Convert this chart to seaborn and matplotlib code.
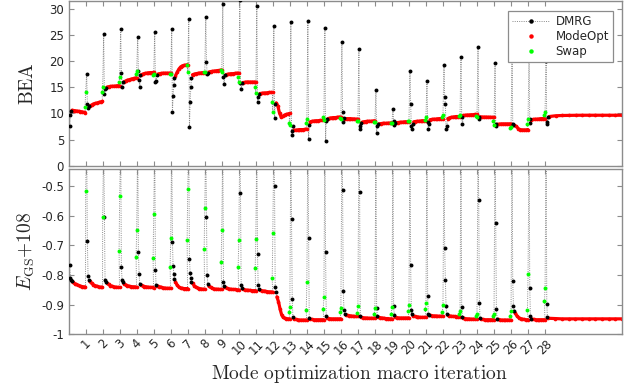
import numpy as np
import pandas as pd
import matplotlib
matplotlib.use("Agg")
import matplotlib.pyplot as plt
import seaborn as sns
from matplotlib.lines import Line2D

# ---------------------------------------------------------------- data
iterations = list(range(1, 29))
tick_labels = [str(k) for k in iterations]
x_last = 32.5

# Bond entanglement area (BEA)
bea_start_dmrg = [7.6, 9.6, 10.5]
bea_start_modeopt = [10.6, 10.55, 10.5, 10.45, 10.4, 10.35, 10.3, 10.2, 10.15]
bea_swap = [
    [11.3, 14.0], [14.0, 15.0], [16.1, 16.9], [17.6, 18.1], [17.4, 17.6],
    [17.5, 17.6], [19.3, 17.9], [17.9, 17.9], [18.3, 17.9], [16.9, 16.0],
    [15.0, 13.9], [12.1, 10.2], [8.2, 7.7], [8.1, 8.9], [9.4, 8.8],
    [9.2, 9.0], [8.6, 8.5], [8.4, 8.3], [8.1, 8.2], [8.6, 8.5],
    [8.75, 9.3], [9.3, 9.6], [9.5, 9.6], [9.5, 9.4], [8.5, 7.7],
    [7.2, 7.4], [8.0, 9.0], [9.65, 10.3],
]
bea_dmrg = [
    [17.6, 11.8, 11.0, 11.5], [25.2, 13.7, 14.6, 14.9], [26.1, 17.7, 15.0, 16.0],
    [24.7, 18.1, 16.4, 15.0, 17.3], [25.5, 16.0, 16.2, 17.3],
    [26.2, 10.3, 13.4, 15.4, 16.8], [28.1, 7.35, 12.2, 15.0, 16.8],
    [28.4, 19.9, 17.6, 17.8], [31.0, 17.0, 15.6, 17.3], [31.6, 15.9, 14.6, 15.8],
    [30.5, 12.1, 13.2, 13.7], [26.8, 9.1, 11.8], [27.4, 6.7, 5.9, 7.5],
    [27.7, 5.2, 7.8], [26.4, 4.7, 8.5, 8.9], [23.7, 10.3, 8.4, 9.1],
    [22.4, 7.0, 7.5, 8.2], [14.4, 6.3, 7.6, 8.0], [10.9, 8.6, 7.7, 8.1],
    [18.2, 11.8, 7.5, 7.0, 8.0], [16.2, 8.4, 7.0, 7.9],
    [19.35, 13.1, 11.8, 7.0, 7.6], [20.8, 9.4, 7.9], [22.7, 9.4, 9.0],
    [19.6, 7.5, 8.0], [20.9, 8.0, 7.7], [20.9, 8.2, 8.9], [20.0, 7.9, 8.4, 9.3],
]
bea_modeopt = [
    [11.4, 11.6, 11.8, 11.9, 12.0, 12.1, 12.2, 12.3],
    [15.0, 15.1, 15.15, 15.2, 15.2, 15.25, 15.3, 15.3],
    [16.0, 16.2, 16.35, 16.45, 16.55, 16.65, 16.75, 16.8],
    [17.4, 17.55, 17.65, 17.7, 17.75, 17.8, 17.8, 17.85],
    [17.5, 17.6, 17.65, 17.7, 17.7, 17.7, 17.7, 17.7],
    [17.2, 17.9, 18.5, 18.9, 19.1, 19.2, 19.25, 19.3],
    [17.4, 17.5, 17.6, 17.65, 17.7, 17.75, 17.8, 17.8],
    [17.9, 18.0, 18.05, 18.1, 18.15, 18.2, 18.25, 18.3],
    [17.4, 17.5, 17.55, 17.6, 17.6, 17.65, 17.7, 17.7],
    [15.9, 15.95, 16.0, 16.0, 16.0, 16.0, 16.0, 16.0],
    [13.8, 13.85, 13.9, 13.9, 13.95, 14.0, 14.0, 14.0],
    [12.0, 11.4, 10.0, 9.3, 9.5, 9.7, 9.8, 9.9, 10.0],
    [6.8, 6.8, 6.85, 6.9, 6.9, 6.9, 6.95, 7.0],
    [8.4, 8.5, 8.55, 8.6, 8.6, 8.65, 8.65, 8.7],
    [9.0, 9.1, 9.15, 9.2, 9.2, 9.25, 9.3, 9.3],
    [9.0, 9.0, 9.0, 9.0, 8.95, 8.95, 8.9, 8.9],
    [8.3, 8.4, 8.45, 8.5, 8.5, 8.5, 8.55, 8.6],
    [8.0, 8.05, 8.1, 8.1, 8.1, 8.15, 8.15, 8.2],
    [8.2, 8.25, 8.3, 8.3, 8.35, 8.4, 8.4, 8.45],
    [8.4, 8.45, 8.5, 8.5, 8.55, 8.6, 8.6, 8.6],
    [8.8, 8.85, 8.9, 8.9, 8.95, 9.0, 9.0, 9.0],
    [9.0, 9.15, 9.25, 9.3, 9.35, 9.4, 9.4, 9.4],
    [9.6, 9.65, 9.7, 9.7, 9.75, 9.75, 9.8, 9.8],
    [9.35, 9.3, 9.3, 9.3, 9.28, 9.28, 9.25, 9.25],
    [7.9, 7.95, 8.0, 8.0, 8.0, 8.0, 8.0, 8.0],
    [7.7, 7.5, 7.1, 6.9, 6.85, 6.85, 6.85, 6.9],
    [8.8, 8.85, 8.9, 8.9, 8.95, 9.0, 9.0, 9.0],
    [9.4, 9.55, 9.6, 9.62, 9.64, 9.65, 9.65, 9.65, 9.65, 9.65, 9.65, 9.65],
]

# Ground-state energy shifted by +108
egs_start_dmrg = [-0.767, -0.811, -0.816, -0.822]
egs_start_modeopt = [-0.825, -0.829, -0.832, -0.835, -0.837, -0.839, -0.840, -0.841]
egs_swap = [
    [-0.517], [-0.604], [-0.718, -0.533], [-0.738, -0.649], [-0.742, -0.593],
    [-0.774, -0.674], [-0.682, -0.509], [-0.711, -0.575], [-0.756, -0.647],
    [-0.772, -0.682], [-0.778, -0.680], [-0.809, -0.660], [-0.924, -0.908],
    [-0.919, -0.824], [-0.916, -0.874], [-0.925, -0.912], [-0.927, -0.905],
    [-0.932, -0.912], [-0.930, -0.908], [-0.923, -0.901], [-0.916, -0.894],
    [-0.925, -0.901], [-0.932, -0.923], [-0.940, -0.932], [-0.940, -0.932],
    [-0.940, -0.923], [-0.918, -0.798], [-0.888, -0.843],
]
egs_dmrg = [
    [-0.35, -0.685, -0.803, -0.818], [-0.35, -0.604, -0.817, -0.825],
    [-0.35, -0.774, -0.817, -0.825], [-0.35, -0.722, -0.796, -0.830],
    [-0.35, -0.783, -0.835], [-0.35, -0.689, -0.771, -0.797, -0.812],
    [-0.35, -0.745, -0.793, -0.810, -0.823], [-0.35, -0.604, -0.799, -0.832],
    [-0.35, -0.825, -0.838], [-0.35, -0.524, -0.834, -0.843],
    [-0.35, -0.731, -0.834, -0.846], [-0.35, -0.500, -0.841, -0.858],
    [-0.35, -0.613, -0.880, -0.941], [-0.35, -0.674, -0.946],
    [-0.35, -0.722, -0.940], [-0.35, -0.515, -0.854, -0.917, -0.930],
    [-0.35, -0.522, -0.940], [-0.35, -0.910, -0.937], [-0.35, -0.906, -0.936],
    [-0.35, -0.767, -0.917, -0.932], [-0.35, -0.872, -0.930, -0.934],
    [-0.35, -0.709, -0.816, -0.903, -0.932], [-0.35, -0.908, -0.941],
    [-0.35, -0.547, -0.896, -0.946], [-0.35, -0.624, -0.916, -0.948],
    [-0.35, -0.821, -0.903, -0.920], [-0.35, -0.843, -0.940, -0.947],
    [-0.35, -0.899, -0.943],
]
egs_modeopt = [
    [-0.822, -0.828, -0.833, -0.836, -0.838, -0.840, -0.841, -0.842],
    [-0.827, -0.832, -0.836, -0.838, -0.840, -0.841, -0.842, -0.842],
    [-0.829, -0.833, -0.836, -0.838, -0.839, -0.840, -0.840, -0.841],
    [-0.833, -0.836, -0.839, -0.840, -0.841, -0.842, -0.842, -0.843],
    [-0.836, -0.839, -0.841, -0.843, -0.844, -0.845, -0.845, -0.845],
    [-0.823, -0.835, -0.841, -0.844, -0.845, -0.846, -0.846, -0.846],
    [-0.828, -0.836, -0.841, -0.844, -0.846, -0.847, -0.848, -0.848],
    [-0.838, -0.842, -0.845, -0.847, -0.848, -0.848, -0.849, -0.849],
    [-0.842, -0.845, -0.847, -0.848, -0.849, -0.849, -0.850, -0.850],
    [-0.848, -0.850, -0.851, -0.852, -0.852, -0.853, -0.853, -0.853],
    [-0.851, -0.853, -0.854, -0.855, -0.856, -0.857, -0.857, -0.858],
    [-0.874, -0.890, -0.915, -0.935, -0.943, -0.946, -0.947, -0.948, -0.948],
    [-0.948, -0.950, -0.951, -0.952, -0.952, -0.952, -0.952, -0.952],
    [-0.949, -0.950, -0.951, -0.951, -0.951, -0.951, -0.951, -0.951],
    [-0.945, -0.947, -0.948, -0.948, -0.948, -0.948, -0.948, -0.948],
    [-0.934, -0.936, -0.937, -0.938, -0.939, -0.940, -0.940, -0.940],
    [-0.943, -0.944, -0.945, -0.945, -0.946, -0.946, -0.946, -0.946],
    [-0.942, -0.944, -0.945, -0.946, -0.947, -0.947, -0.948, -0.948],
    [-0.942, -0.944, -0.945, -0.945, -0.945, -0.945, -0.945, -0.945],
    [-0.938, -0.940, -0.941, -0.942, -0.943, -0.943, -0.943, -0.943],
    [-0.936, -0.937, -0.938, -0.938, -0.939, -0.939, -0.939, -0.939],
    [-0.936, -0.938, -0.939, -0.940, -0.940, -0.941, -0.941, -0.941],
    [-0.945, -0.947, -0.948, -0.948, -0.949, -0.949, -0.949, -0.949],
    [-0.949, -0.950, -0.951, -0.951, -0.951, -0.951, -0.951, -0.951],
    [-0.950, -0.951, -0.952, -0.952, -0.952, -0.952, -0.952, -0.952],
    [-0.928, -0.938, -0.944, -0.947, -0.949, -0.950, -0.951, -0.951],
    [-0.949, -0.950, -0.951, -0.951, -0.951, -0.951, -0.951, -0.951],
    [-0.946, -0.947, -0.948, -0.948, -0.948, -0.948, -0.948, -0.948,
     -0.948, -0.948, -0.948, -0.948],
]


# ---------------------------------------------------------------- helpers
def build_frames(start_dmrg, start_mode, swap, dmrg, mode):
    """Lay the samples out along the macro-iteration axis in run order."""
    rows = []
    seg = 0
    for j, v in enumerate(start_dmrg):
        rows.append((0.04 + 0.04 * j, v, "DMRG", -1))
    for x, v in zip(np.linspace(0.04 + 0.04 * len(start_dmrg) + 0.02, 0.97,
                                len(start_mode)), start_mode):
        rows.append((x, v, "ModeOpt", seg))
    for k, s, d, m in zip(iterations, swap, dmrg, mode):
        seg += 1
        n = len(s)
        for j, v in enumerate(s):
            rows.append((k - 0.02 - 0.035 * (n - 1 - j), v, "Swap", -1))
        for j, v in enumerate(d):
            rows.append((k + 0.04 + 0.04 * j, v, "DMRG", -1))
        x0 = k + 0.04 + 0.04 * len(d) + 0.02
        x1 = x_last if k == iterations[-1] else k + 0.97
        for x, v in zip(np.linspace(x0, x1, len(m)), m):
            rows.append((x, v, "ModeOpt", seg))
    df = pd.DataFrame(rows, columns=["x", "y", "kind", "seg"])
    df["order"] = np.arange(len(df))
    return df


def draw_panel(ax, df):
    sns.lineplot(data=df, x="x", y="y", sort=False, estimator=None, ax=ax,
                 color="#8a8a8a", lw=0.7, linestyle=(0, (1, 1.3)),
                 legend=False, zorder=1)
    mode = df[df.kind == "ModeOpt"]
    sns.lineplot(data=mode, x="x", y="y", units="seg", estimator=None,
                 sort=False, ax=ax, color="#ff0000", lw=2.3, legend=False,
                 zorder=2)
    sns.scatterplot(data=mode, x="x", y="y", ax=ax, color="#ff0000", s=7,
                    linewidth=0, legend=False, zorder=2)
    sns.scatterplot(data=df[df.kind == "DMRG"], x="x", y="y", ax=ax,
                    color="black", s=8, linewidth=0, legend=False, zorder=3)
    sns.scatterplot(data=df[df.kind == "Swap"], x="x", y="y", ax=ax,
                    color="#00ff00", s=8, linewidth=0, legend=False, zorder=4)


def style_axes(ax):
    for sp in ax.spines.values():
        sp.set_color("#8c8c8c")
        sp.set_linewidth(1.0)
    ax.tick_params(direction="in", length=3.5, width=0.8, color="#8c8c8c",
                   top=True, right=True, labelsize=8.5, labelcolor="#262626")
    ax.set_xlim(0, x_last)
    ax.set_xticks(iterations)
    ax.set_xlabel("")
    ax.set_ylabel("")


# ---------------------------------------------------------------- figure
sns.set_style("ticks")
plt.rcParams["mathtext.fontset"] = "cm"
plt.rcParams["axes.unicode_minus"] = False
plt.rcParams["font.family"] = ["DejaVu Sans"]

fig = plt.figure(figsize=(6.44, 3.92), dpi=100)
ax_top = fig.add_axes([0.1071, 0.5773, 0.8587, 0.4202])
ax_bot = fig.add_axes([0.1071, 0.1472, 0.8587, 0.4217])

bea_df = build_frames(bea_start_dmrg, bea_start_modeopt, bea_swap, bea_dmrg,
                      bea_modeopt)
egs_df = build_frames(egs_start_dmrg, egs_start_modeopt, egs_swap, egs_dmrg,
                      egs_modeopt)

draw_panel(ax_top, bea_df)
draw_panel(ax_bot, egs_df)

style_axes(ax_top)
ax_top.set_ylim(0, 31.5)
ax_top.set_yticks([0, 5, 10, 15, 20, 25, 30])
ax_top.set_xticklabels([])

style_axes(ax_bot)
ax_bot.set_ylim(-1, -0.443)
egs_ticks = [-1, -0.9, -0.8, -0.7, -0.6, -0.5]
ax_bot.set_yticks(egs_ticks)
ax_bot.set_yticklabels(["-1", "-0.9", "-0.8", "-0.7", "-0.6", "-0.5"])
ax_bot.set_xticklabels(tick_labels, rotation=45, ha="center", va="top")
ax_bot.tick_params(axis="x", pad=2)

ax_top.set_ylabel(r"$\mathrm{BEA}$", fontsize=14)
ax_bot.set_ylabel(r"$E_{\mathrm{GS}}{+}108$", fontsize=14)
ax_top.yaxis.set_label_coords(-0.058, 0.5)
ax_bot.yaxis.set_label_coords(-0.058, 0.5)
fig.text(359 / 644, 1 - 374 / 392, r"$\mathrm{Mode\ optimization\ macro\ iteration}$",
         fontsize=14, ha="center", va="center")

handles = [
    Line2D([], [], color="#8a8a8a", lw=0.7, linestyle=(0, (1, 1.3)),
           marker="o", ms=2.2, mfc="black", mec="black"),
    Line2D([], [], ls="none", marker="o", ms=2.2, mfc="#ff0000", mec="#ff0000"),
    Line2D([], [], ls="none", marker="o", ms=2.2, mfc="#00ff00", mec="#00ff00"),
]
leg = ax_top.legend(handles, ["DMRG", "ModeOpt", "Swap"], loc="upper right",
                    bbox_to_anchor=(0.984, 0.939), borderaxespad=0,
                    fontsize=8.5, handlelength=3.2, handletextpad=0.5,
                    labelspacing=0.15, borderpad=0.35, fancybox=False,
                    framealpha=1, edgecolor="#8c8c8c")
leg.get_frame().set_linewidth(0.9)

fig.savefig("out.png", dpi=100)
